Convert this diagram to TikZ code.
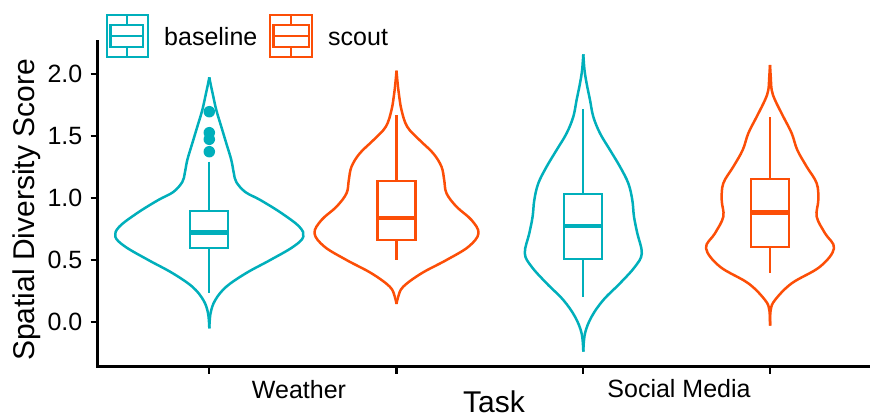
\documentclass[tikz,border=0pt]{standalone}
\usepackage{fontspec}
\setmainfont{Liberation Sans}
\definecolor{cbase}{HTML}{00AFBB}
\definecolor{cscout}{HTML}{FC4E07}
\newcommand{\vhalf}[1]{\draw[vline] plot[smooth, tension=0.6] coordinates {#1};}
\newcommand{\myviolin}[3]{%
  \begin{scope}[shift={(#2,0)}, color=#1]\vhalf{#3}\end{scope}%
  \begin{scope}[shift={(#2,0)}, xscale=-1, color=#1]\vhalf{#3}\end{scope}}
% color, cx, wtop, q3, med, q1, wbot
\newcommand{\mybox}[7]{%
  \begin{scope}[color=#1]
  \draw[bline] ({#2-19},#4) rectangle ({#2+19},#6);
  \draw[bline] (#2,#3) -- (#2,#4);
  \draw[bline] (#2,#6) -- (#2,#7);
  \draw[mline] ({#2-19},#5) -- ({#2+19},#5);
  \end{scope}}
\begin{document}
\begin{tikzpicture}[x=1pt,y=-1pt,
  vline/.style={line width=2.5pt, line join=round},
  bline/.style={line width=2.3pt},
  mline/.style={line width=4.8pt},
  axisline/.style={line width=2.3pt, black},
  ticklab/.style={font=\fontsize{25}{28}\selectfont, inner sep=0pt, text=black},
  titlelab/.style={font=\fontsize{30}{34}\selectfont, inner sep=0pt, text=black},
  dot/.style={circle, fill=cbase, draw=none, minimum size=11.5pt, inner sep=0pt}]
\useasboundingbox (0,0) rectangle (870,416);

% axes
\coordinate (otop) at (97.5,41);
\coordinate (origin) at (97.5,366.5);
\coordinate (xend) at (870,366.5);
\draw[axisline, line cap=rect] (otop) -- (origin) -- (xend);
\foreach \v/\lab in {0/0.0,1/0.5,2/1.0,3/1.5,4/2.0}{
  \pgfmathsetmacro{\yy}{322-62*\v}
  \draw[axisline] (90.5,\yy) -- (97.5,\yy);
  \node[ticklab, anchor=east] (yt\v) at (82.5,\yy) {\lab};
}
\foreach \xx in {209.3,396.5,583.3,770}{
  \draw[axisline] (\xx,366.5) -- (\xx,374);
}
\node[ticklab, anchor=base] (xw) at (299,398) {Weather};
\node[ticklab, anchor=base] (xs) at (679,397) {Social Media};
\node[titlelab, anchor=base] (xt) at (494,412) {Task};
\node[titlelab, anchor=base, rotate=90] (yt) at (34,210) {Spatial Diversity Score};

% legend
\begin{scope}[color=cbase]
  \draw[bline] (107,15) rectangle (148,57);
  \draw[bline] (110.5,25) rectangle (143,46.7);
  \draw[bline] (110.5,36) -- (143,36);
  \draw[bline] (126.7,15) -- (126.7,25);
  \draw[bline] (126.7,46.7) -- (126.7,57);
\end{scope}
\begin{scope}[color=cscout]
  \draw[bline] (270,15) rectangle (312,57);
  \draw[bline] (273.5,25) rectangle (309,46.7);
  \draw[bline] (273.5,36) -- (309,36);
  \draw[bline] (291,15) -- (291,25);
  \draw[bline] (291,46.7) -- (291,57);
\end{scope}
\node[ticklab, anchor=base west] (lb) at (164,45) {baseline};
\node[ticklab, anchor=base west] (ls) at (328,45) {scout};

% violins
\myviolin{cbase}{209.3}{(0,77.3) (1.5,85) (3.3,93.3) (7,110) (12,126.7) (17,143.3) (22,160) (24.5,173) (27,182) (36,192) (51,200) (72,213) (90,226.7) (94,236.7) (84,246.7) (61,260) (37,273) (17,286.7) (6,300) (1.3,313) (0,328.3)}
\myviolin{cscout}{396.5}{(0,70.7) (1,82) (2.3,93.3) (5,110) (10.7,126.7) (23,140) (36.7,153.3) (45,166.7) (47.7,180) (50,193.3) (60,206.7) (75,220) (82,233.3) (72,246.7) (50,260) (25,273.3) (6.7,286.7) (1.7,296.7) (0,304)}
\myviolin{cbase}{583.3}{(0,54.3) (1.2,70) (3.3,83.3) (6.7,100) (10,116.7) (16.7,133.3) (26.7,150) (36.7,166.7) (45,183.3) (49,200) (50.7,216.7) (54,233.3) (58.5,253.3) (51.7,266.7) (36.7,283.3) (20,300) (8.3,316.7) (1.7,333.3) (0,351.7)}
\myviolin{cscout}{770}{(0,65) (0.8,78) (1.7,90) (5,100) (13.3,116.7) (21.7,133.3) (27.3,150) (36.7,166.7) (46.7,183.3) (48.3,200) (46.7,216.7) (55,233.3) (64,248.3) (50,266.7) (21.7,283.3) (5,300) (0.7,310) (0,325.7)}

% boxes
\mybox{cbase}{209.3}{161.7}{211}{232.3}{247.7}{293.3}
\mybox{cscout}{396.5}{115}{180.7}{218}{240.3}{260}
\mybox{cbase}{583.3}{109.3}{194.3}{226}{259}{297.3}
\mybox{cscout}{770}{117.3}{179}{212.7}{247}{273.3}

% outliers
\node[dot] (o1) at (209.3,111.7) {};
\node[dot] (o2) at (209.3,132.7) {};
\node[dot] (o3) at (209.3,139.3) {};
\node[dot] (o4) at (209.3,151.7) {};
\end{tikzpicture}
\end{document}
